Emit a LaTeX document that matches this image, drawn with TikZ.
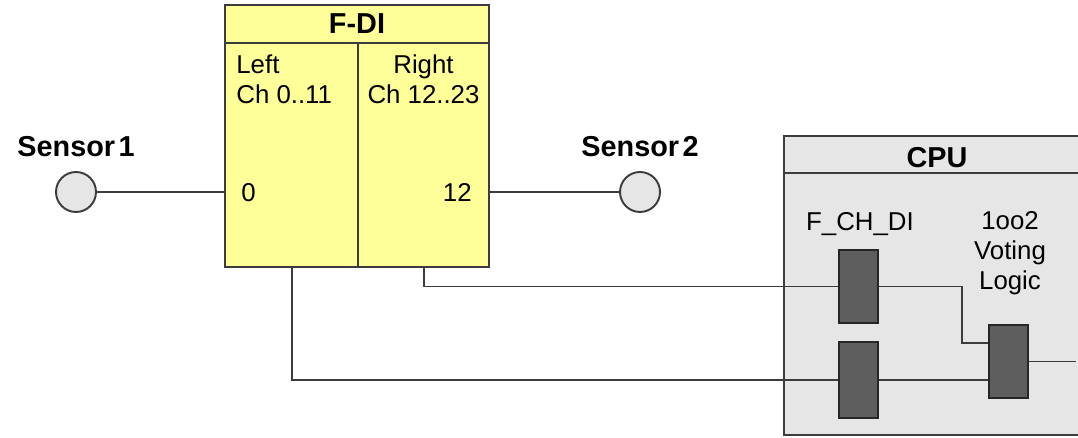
\documentclass[tikz,border=0pt]{standalone}
\usepackage{fontspec}
\setmainfont{Liberation Sans}
\usetikzlibrary{calc}
\definecolor{fdiyellow}{HTML}{FFFF99}
\definecolor{cpugray}{HTML}{E6E6E6}
\definecolor{blkgray}{HTML}{5E5E5E}
\definecolor{linegray}{HTML}{3C3C3C}
\tikzset{
  lbl/.style={font=\bfseries\fontsize{16.4}{19}\selectfont,inner sep=0},
  txt/.style={font=\fontsize{14.7}{17}\selectfont,inner sep=0},
  sens/.style={circle,draw=linegray,fill=cpugray,line width=1.1pt,minimum size=0.8cm,inner sep=0},
  unit/.style={draw=linegray,line width=1.1pt,inner sep=0},
  blk/.style={draw=black!85,fill=blkgray,line width=1pt,minimum width=0.78cm,inner sep=0},
  wire/.style={draw=linegray,line width=1.1pt}
}
\begin{document}
\begin{tikzpicture}[x=0.02cm,y=-0.02cm]
\useasboundingbox (0,0) rectangle (1078,438);
% F-DI module
\node[unit,fill=fdiyellow,minimum width=5.28cm,minimum height=5.24cm] (fdi) at (357,136) {};
\coordinate (T) at (358,43); \coordinate (pB) at (292,267); \coordinate (pA) at (424,267);
\draw[unit] (fdi.west |- T) -- (fdi.east |- T); \draw[unit] (T) -- (T |- fdi.south);
\node[lbl] (fdititle) at (357,24) {F-DI};
\node[txt,anchor=base west] (left) at (236,74) {Left};
\node[txt,anchor=base west] (leftch) at (236,104) {Ch 0..11};
\node[txt,anchor=base] (right) at (423.5,74) {Right};
\node[txt,anchor=base] (rightch) at (423.5,104) {Ch 12..23};
\node[txt,anchor=base west] (ch0) at (241,202) {0};
\node[txt,anchor=base east] (ch12) at (472,202) {12};
% sensors
\node[sens] (s1) at (76,192) {}; \node[lbl,anchor=base] (s1lbl) at (76,157) {Sensor\hspace{0.12em}1};
\node[sens] (s2) at (640,192) {}; \node[lbl,anchor=base] (s2lbl) at (640,157) {Sensor\hspace{0.12em}2};
\draw[wire] (s1.east) -- (s1 -| fdi.west);
\draw[wire] (fdi.east |- s2) -- (s2.west);
% CPU
\node[unit,fill=cpugray,minimum width=6.12cm,minimum height=5.98cm] (cpu) at (937,285.5) {};
\coordinate (U) at (937,173);
\draw[unit] (cpu.west |- U) -- (cpu.east |- U);
\node[lbl,anchor=base] (cputitle) at (937,168) {CPU};
\node[txt,anchor=base] (fchdi) at (860,231) {F\_CH\_DI};
\node[txt,anchor=north,align=center,font=\fontsize{14.7}{17}\selectfont] (votelbl) at (1010,211) {1oo2\\Voting\\Logic};
\node[blk,minimum height=1.46cm] (chA) at (858.5,286.5) {};
\node[blk,minimum height=1.52cm] (chB) at (858.5,380) {};
\node[blk,minimum height=1.46cm] (vote) at (1008.5,361.5) {};
% wiring
\draw[wire] (pA) |- (chA.west);
\draw[wire] (pB) |- (chB.west);
\draw[wire] (chA.east) -- (chA.east -| 962,0) |- ($(vote.west)+(0,-18.5)$);
\draw[wire] (chB.east) -- (chB.east -| vote.west);
\draw[wire] (vote.east) -- ++(47,0);
\end{tikzpicture}
\end{document}
